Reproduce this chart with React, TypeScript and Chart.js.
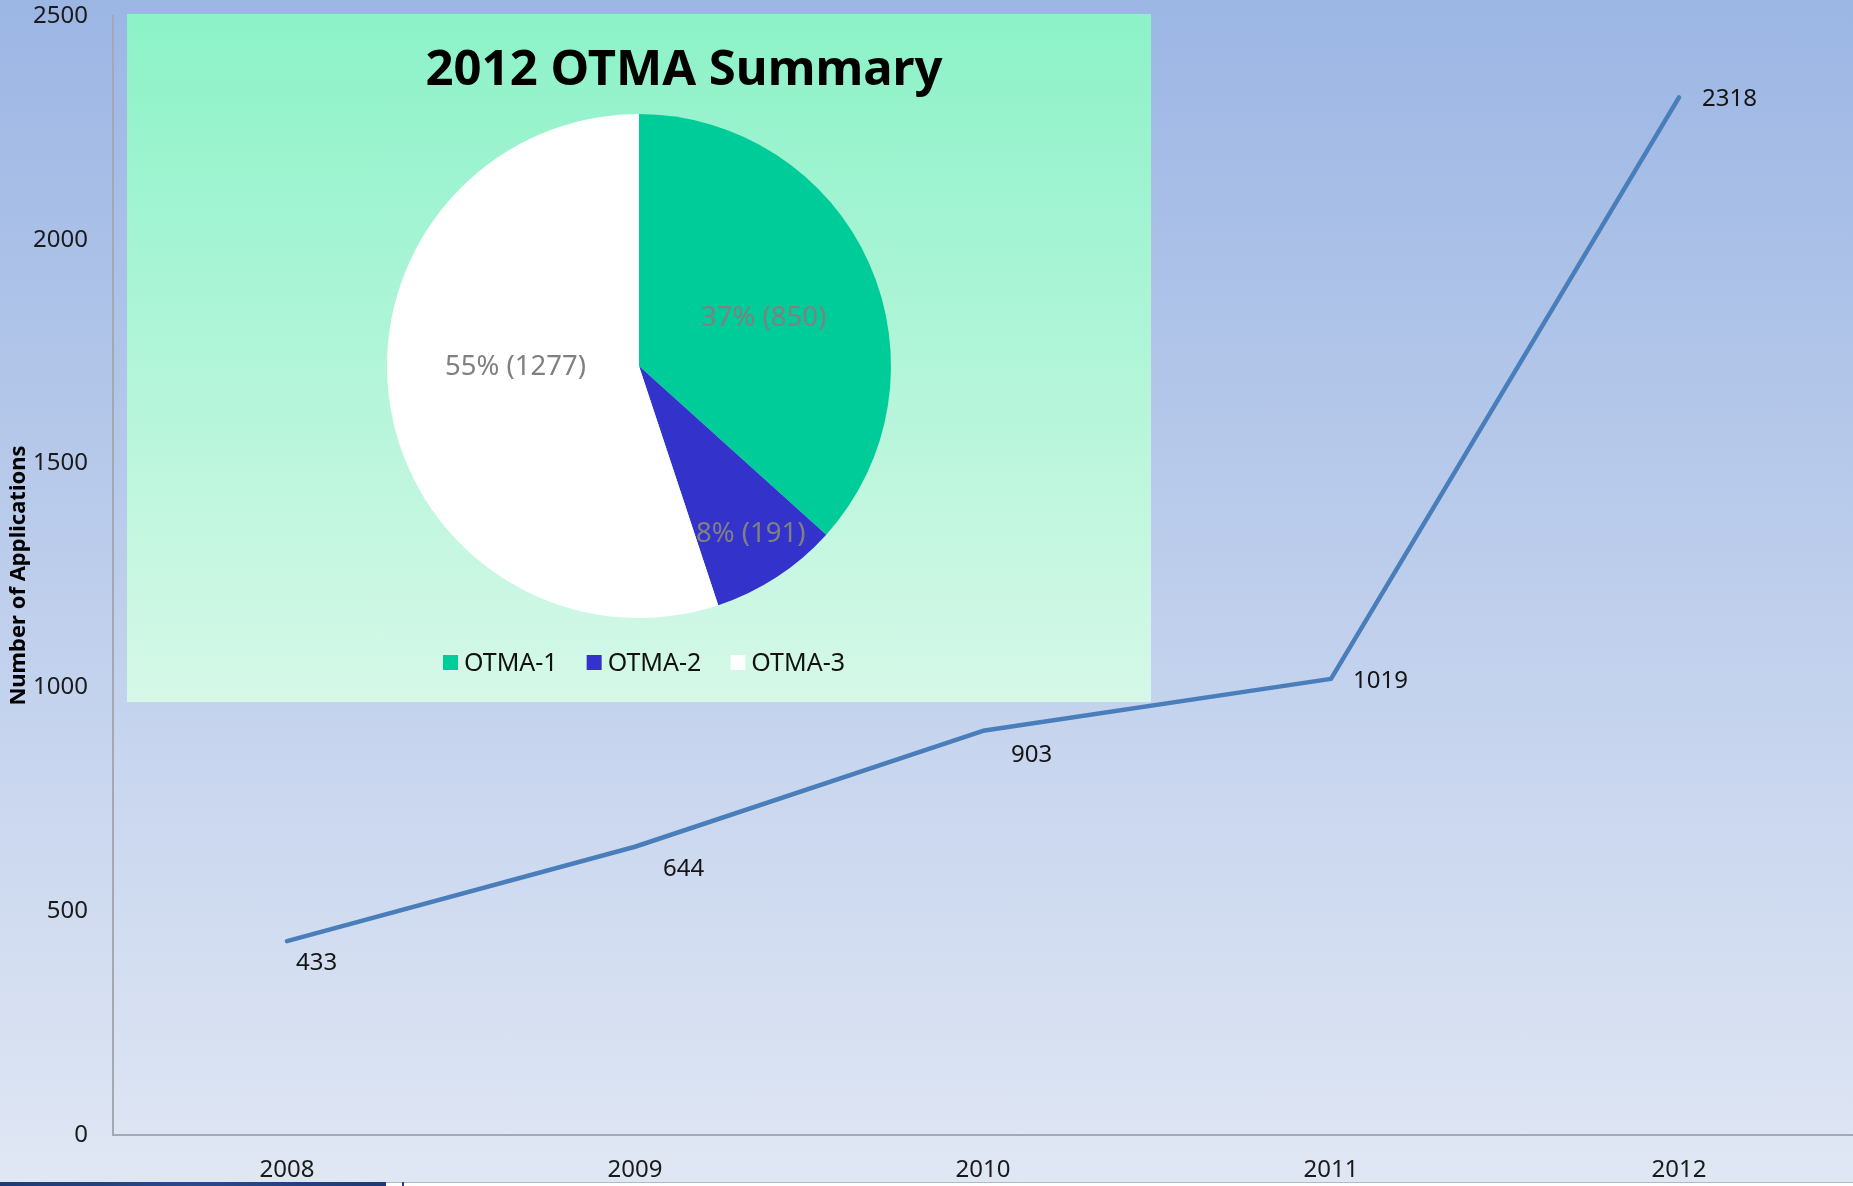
import React, { useEffect, useRef } from "react";
import { Chart, registerables } from "chart.js";

Chart.register(...registerables);

// ---------- data ----------
const years = ["2008", "2009", "2010", "2011", "2012"];
const applications = [433, 644, 903, 1019, 2318];
const yTicks = [0, 500, 1000, 1500, 2000, 2500];
const yAxisTitle = "Number of Applications";

const pieTitle = "2012 OTMA Summary";
const pieLabels = ["OTMA-1", "OTMA-2", "OTMA-3"];
const pieValues = [850, 191, 1277];
const pieColors = ["#00cc99", "#3333cc", "#ffffff"];

// ---------- style ----------
const FONT = "'Noto Sans', 'Open Sans', sans-serif";
const labelDx = [9, 28, 28, 22, 23];
const labelDy = [22, 22, 24, 2, 2];
const pieLabelRadius = [0.53, 0.8, 0.49];
const pieLabelAngleShift = [3, -0.5, 8.5];

const W = 1853;
const H = 1186;
const PIE_LEFT = 127;
const PIE_TOP = 14;
const PIE_W = 1024;
const PIE_H = 688;

const lineLabelPlugin = {
  id: "lineLabels",
  afterDatasetsDraw(chart: any) {
    const ctx = chart.ctx;
    const meta = chart.getDatasetMeta(0);
    ctx.save();
    ctx.font = `24px ${FONT}`;
    ctx.fillStyle = "#141414";
    ctx.textAlign = "left";
    ctx.textBaseline = "middle";
    meta.data.forEach((pt: any, i: number) => {
      ctx.fillText(String(applications[i]), pt.x + labelDx[i], pt.y + labelDy[i]);
    });
    ctx.restore();
  },
};

const pieDecorPlugin = {
  id: "pieDecor",
  afterDatasetsDraw(chart: any) {
    const ctx = chart.ctx;
    const meta = chart.getDatasetMeta(0);
    const total = pieValues.reduce((a, b) => a + b, 0);
    ctx.save();
    // slice labels
    ctx.font = `27.5px ${FONT}`;
    ctx.fillStyle = "#808080";
    ctx.textAlign = "center";
    ctx.textBaseline = "middle";
    meta.data.forEach((arc: any, i: number) => {
      const mid = (arc.startAngle + arc.endAngle) / 2 + (pieLabelAngleShift[i] * Math.PI) / 180;
      const r = arc.outerRadius * pieLabelRadius[i];
      const pct = Math.round((pieValues[i] / total) * 100);
      ctx.fillText(`${pct}% (${pieValues[i]})`, arc.x + Math.cos(mid) * r, arc.y + Math.sin(mid) * r);
    });
    // title
    ctx.font = `bold 49px ${FONT}`;
    ctx.fillStyle = "#000000";
    ctx.fillText(pieTitle, 557, 57);
    // legend
    ctx.font = `25px ${FONT}`;
    const box = 15;
    const boxGap = 6;
    const itemGap = 29;
    const widths = pieLabels.map((l) => ctx.measureText(l).width);
    const total_w = widths.reduce((a, w) => a + box + boxGap + w, 0) + itemGap * (pieLabels.length - 1);
    let x = 517 - total_w / 2;
    const cy = 648.5;
    ctx.textAlign = "left";
    pieLabels.forEach((l, i) => {
      ctx.fillStyle = pieColors[i];
      ctx.fillRect(x, cy - box / 2, box, box);
      ctx.fillStyle = "#111111";
      ctx.fillText(l, x + box + boxGap, cy + 1);
      x += box + boxGap + widths[i] + itemGap;
    });
    ctx.restore();
  },
};

function LineChart() {
  const ref = useRef<HTMLCanvasElement>(null);
  useEffect(() => {
    if (!ref.current) return;
    const chart = new Chart(ref.current, {
      type: "line",
      data: {
        labels: years,
        datasets: [
          {
            data: applications,
            borderColor: "#4a7ebb",
            borderWidth: 4.5,
            pointRadius: 0,
            tension: 0,
            borderCapStyle: "round",
            borderJoinStyle: "round",
            fill: false,
          },
        ],
      },
      options: {
        responsive: false,
        animation: false,
        devicePixelRatio: 1,
        layout: { padding: { top: 16, right: 0, left: 0, bottom: 0 } },
        plugins: { legend: { display: false }, tooltip: { enabled: false }, title: { display: false } },
        scales: {
          x: {
            type: "category",
            offset: true,
            grid: { display: false, drawTicks: false },
            border: { display: true, color: "#a3a8b2", width: 2 },
            ticks: { color: "#1a1a1a", font: { family: FONT, size: 24 }, padding: 21, maxRotation: 0 },
            afterFit: (s: any) => {
              s.height = 51;
              s.paddingLeft = 0;
              s.paddingRight = 0;
            },
          },
          y: {
            min: 0,
            max: 2500,
            afterBuildTicks: (s: any) => {
              s.ticks = yTicks.map((v) => ({ value: v }));
            },
            grid: { display: false, drawTicks: false },
            border: { display: true, color: "#a3a8b2", width: 2 },
            ticks: {
              color: "#1a1a1a",
              font: { family: FONT, size: 24 },
              padding: 25,
              callback: (v: any) => String(v),
            },
            title: {
              display: true,
              text: yAxisTitle,
              color: "#000000",
              font: { family: FONT, size: 22, weight: "bold" },
              padding: { top: 6, bottom: 0 },
            },
            afterFit: (s: any) => {
              s.width = 113;
              s.paddingTop = 0;
              s.paddingBottom = 0;
            },
          },
        },
      },
      plugins: [lineLabelPlugin],
    } as any);
    return () => chart.destroy();
  }, []);
  return (
    <canvas
      ref={ref}
      width={W}
      height={H}
      style={{ position: "absolute", left: 0, top: 0, width: W, height: H }}
    />
  );
}

function PieChart() {
  const ref = useRef<HTMLCanvasElement>(null);
  useEffect(() => {
    if (!ref.current) return;
    const chart = new Chart(ref.current, {
      type: "pie",
      data: {
        labels: pieLabels,
        datasets: [{ data: pieValues, backgroundColor: pieColors, borderWidth: 0 }],
      },
      options: {
        responsive: false,
        animation: false,
        devicePixelRatio: 1,
        layout: { padding: { top: 100, bottom: 84, left: 0, right: 0 } },
        plugins: { legend: { display: false }, tooltip: { enabled: false }, title: { display: false } },
      },
      plugins: [pieDecorPlugin],
    } as any);
    return () => chart.destroy();
  }, []);
  return (
    <div
      style={{
        position: "absolute",
        left: PIE_LEFT,
        top: PIE_TOP,
        width: PIE_W,
        height: PIE_H,
        background: "linear-gradient(#8cf2c8, #d6f8e8)",
      }}
    >
      <canvas ref={ref} width={PIE_W} height={PIE_H} style={{ width: PIE_W, height: PIE_H, display: "block" }} />
    </div>
  );
}

export default function App() {
  return (
    <div
      style={{
        position: "fixed",
        left: 0,
        top: 0,
        width: W,
        height: H,
        overflow: "hidden",
        background: "linear-gradient(#9cb6e4, #e0e7f4)",
      }}
    >
      <LineChart />
      <PieChart />
      <div style={{ position: "absolute", left: 0, top: 1182, width: 386, height: 4, background: "linear-gradient(90deg, #1d3a78, #2a4a8c, #1d3a78)" }} />
      <div style={{ position: "absolute", left: 386, top: 1182, width: W - 386, height: 4, background: "#ffffff", borderTop: "1px solid #b4b8c0", boxSizing: "border-box" }} />
      <div style={{ position: "absolute", left: 402, top: 1182, width: 2, height: 4, background: "#2a3f75" }} />
    </div>
  );
}
